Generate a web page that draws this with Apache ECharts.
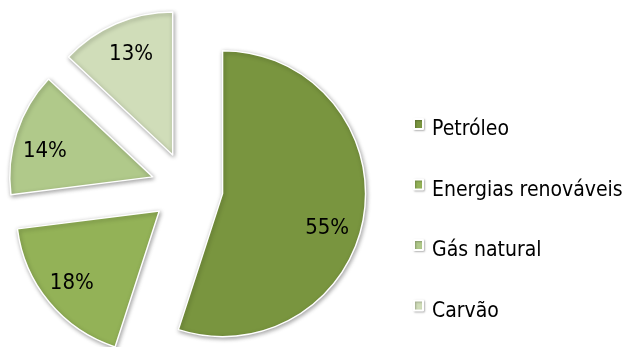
<!DOCTYPE html>
<html>
<head>
<meta charset="utf-8">
<script src="https://cdn.jsdelivr.net/npm/echarts@6/dist/echarts.min.js"></script>
<style>
  html, body { margin: 0; padding: 0; background: #fff; }
  #chart { width: 622px; height: 347px; }
</style>
</head>
<body>
<div id="chart"></div>
<script>
// Energy sources share (%)
const categories = ['Petróleo', 'Energias renováveis', 'Gás natural', 'Carvão'];
const shares = [55, 18, 14, 13];
const sliceColors = ['#79953F', '#93B257', '#B0C98A', '#D0DDB9'];

// Extra shift for each percentage label, pushing it outwards inside its slice
const labelNudge = [[31, 23], [-30, 25], [-37, -3], [-12, -32]];

const FONT = '"DejaVu Sans Condensed", "DejaVu Sans", sans-serif';

// Legend swatch: a square sitting at the top of a taller (empty) box,
// so the swatch lines up with the upper part of the text
const swatch = 'path://M0,0H9V10H0Z M0,22L0.01,22';

const chart = echarts.init(document.getElementById('chart'), null, { renderer: 'canvas' });

chart.setOption({
  animation: false,
  backgroundColor: '#ffffff',
  legend: {
    orient: 'vertical',
    left: 413,
    top: 118,
    padding: 0,
    itemWidth: 9,
    itemHeight: 22,
    itemGap: 36.5,
    icon: swatch,
    selectedMode: false,
    data: categories,
    itemStyle: {
      shadowBlur: 2,
      shadowOffsetX: 1,
      shadowOffsetY: 1,
      shadowColor: 'rgba(0,0,0,0.25)'
    },
    textStyle: {
      fontFamily: FONT,
      fontSize: 21,
      lineHeight: 22,
      color: '#000',
      padding: [0, 0, 0, 4]
    }
  },
  series: [{
    type: 'pie',
    center: [187, 188],
    radius: 143,
    startAngle: 90,
    clockwise: true,
    selectedMode: 'multiple',
    selectedOffset: 36,
    avoidLabelOverlap: false,
    emphasis: { disabled: true },
    itemStyle: {
      borderColor: '#ffffff',
      borderWidth: 1.5,
      shadowBlur: 4,
      shadowOffsetX: 1,
      shadowOffsetY: 1.5,
      shadowColor: 'rgba(0,0,0,0.35)'
    },
    label: {
      show: true,
      position: 'inside',
      formatter: '{c}%',
      fontFamily: FONT,
      fontSize: 22,
      color: '#000'
    },
    labelLine: { show: false },
    labelLayout: function (p) {
      const n = labelNudge[p.dataIndex];
      return { dx: n[0], dy: n[1] };
    },
    data: categories.map((name, i) => ({
      name: name,
      value: shares[i],
      selected: true,
      itemStyle: { color: sliceColors[i] }
    }))
  }]
});
</script>
</body>
</html>
